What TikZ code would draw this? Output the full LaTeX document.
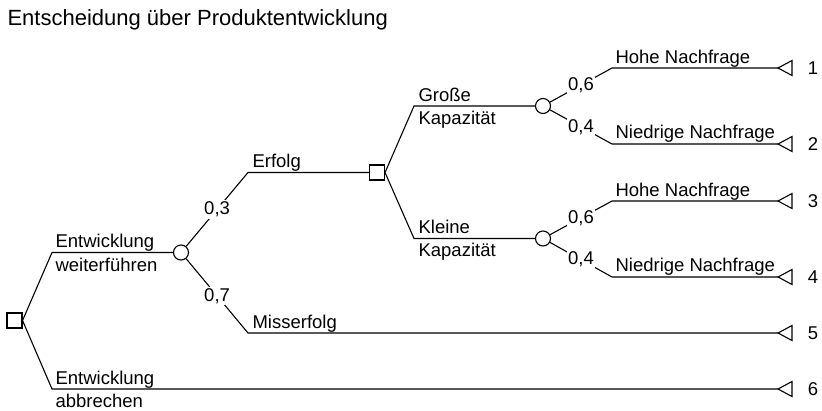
\documentclass[tikz,border=0pt]{standalone}
\usepackage{fontspec}
\setmainfont{Liberation Sans}
\begin{document}
\begin{tikzpicture}[x=1pt,y=-1pt,line width=1.1pt,
  dec/.style={draw,rectangle,minimum size=15pt,inner sep=0pt},
  chance/.style={draw,circle,minimum size=15pt,inner sep=0pt},
  lbl/.style={anchor=base west,inner sep=0pt,font=\fontsize{18.5}{22}\selectfont},
  prob/.style={fill=white,inner sep=1.5pt,font=\fontsize{18.5}{22}\selectfont},
  num/.style={anchor=center,inner sep=0pt,font=\fontsize{18.5}{22}\selectfont},
  term/.style={line width=1.1pt}]
\useasboundingbox (0,0) rectangle (822,410);
% title
\node[anchor=base west,inner sep=0pt,font=\fontsize{22}{26}\selectfont] (title) at (7,25) {Entscheidung über Produktentwicklung};
% nodes
\node[dec] (d0) at (14.5,320.5) {};
\node[chance] (ch1) at (181,252.5) {};
\node[dec] (d1) at (377,172.5) {};
\node[chance] (ch2) at (543,106) {};
\node[chance] (ch3) at (543,238.5) {};
% corners
\coordinate (c1) at (52,252.5);
\coordinate (c2) at (52,389);
\coordinate (c3) at (248,172.5);
\coordinate (c4) at (248,333);
\coordinate (c5) at (414,106);
\coordinate (c6) at (414,238.5);
\coordinate (c7) at (612,68);
\coordinate (c8) at (612,144);
\coordinate (c9) at (612,201);
\coordinate (c10) at (612,277);
% terminal tips
\coordinate (t1) at (778,68);
\coordinate (t2) at (778,144);
\coordinate (t3) at (778,201);
\coordinate (t4) at (778,277);
\coordinate (t5) at (778,333);
\coordinate (t6) at (778,389);
\foreach \t in {t1,t2,t3,t4,t5,t6}{
  \draw[term] (\t) -- ++(14,-7.5) -- ++(0,15) -- cycle;
}
\foreach \t/\n in {t1/1,t2/2,t3/3,t4/4,t5/5,t6/6}{
  \node[num] (n\n) at ([xshift=35pt]\t) {\n};
}
% connectors
\draw (d0.east) -- (c1) -- (ch1.west);
\draw (d0.east) -- (c2) -- (t6);
\draw (ch1) -- node[prob] (p1) {0,3} (c3) -- (d1.west);
\draw (ch1) -- node[prob] (p2) {0,7} (c4) -- (t5);
\draw (d1.east) -- (c5) -- (ch2.west);
\draw (d1.east) -- (c6) -- (ch3.west);
\draw (ch2) -- node[prob] (p3) {0,6} (c7) -- (t1);
\draw (ch2) -- node[prob] (p4) {0,4} (c8) -- (t2);
\draw (ch3) -- node[prob] (p5) {0,6} (c9) -- (t3);
\draw (ch3) -- node[prob] (p6) {0,4} (c10) -- (t4);
% branch labels
\node[lbl] (l1) at (55,247.5) {Entwicklung};
\node[lbl] (l2) at (55,271) {weiterführen};
\node[lbl] (l3) at (55,384) {Entwicklung};
\node[lbl] (l4) at (55,407) {abbrechen};
\node[lbl] (l5) at (252,167.5) {Erfolg};
\node[lbl] (l6) at (252,328) {Misserfolg};
\node[lbl] (l7) at (418,101) {Große};
\node[lbl] (l8) at (418,124) {Kapazität};
\node[lbl] (l9) at (418,233.5) {Kleine};
\node[lbl] (l10) at (418,256.5) {Kapazität};
\node[lbl] (l11) at (615,63) {Hohe Nachfrage};
\node[lbl] (l12) at (615,138.5) {Niedrige Nachfrage};
\node[lbl] (l13) at (615,196) {Hohe Nachfrage};
\node[lbl] (l14) at (615,271.5) {Niedrige Nachfrage};
\end{tikzpicture}
\end{document}
